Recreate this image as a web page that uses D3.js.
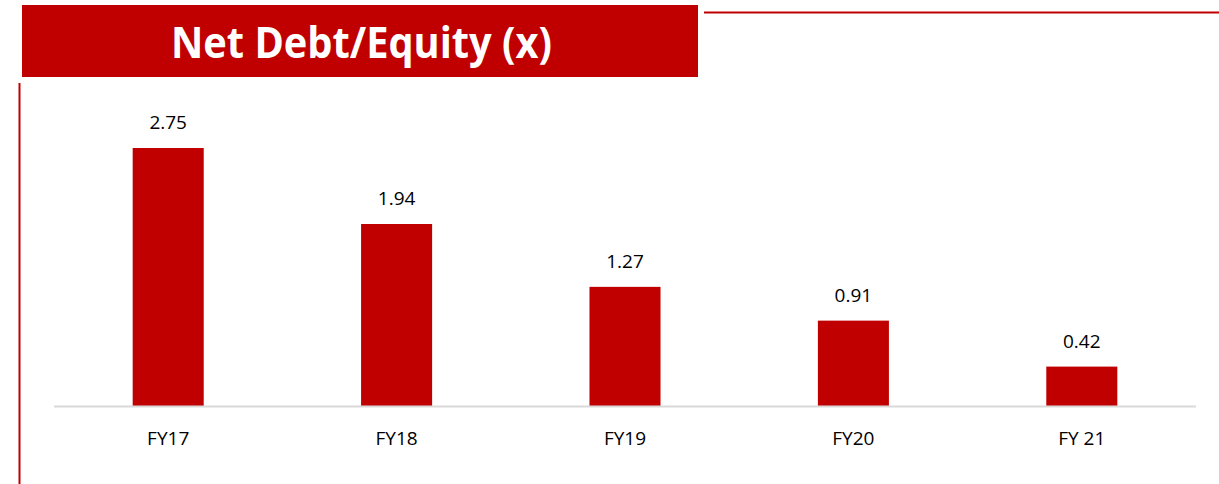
<!DOCTYPE html>
<html>
<head>
<meta charset="utf-8">
<script src="https://cdn.jsdelivr.net/npm/d3@7"></script>
<style>
  html, body { margin: 0; padding: 0; background: #fff; }
  svg { display: block; }
</style>
</head>
<body>
<svg id="chart" width="1219" height="484"></svg>
<script>
const categories = ["FY17", "FY18", "FY19", "FY20", "FY 21"];
const values = [2.75, 1.94, 1.27, 0.91, 0.42];
const title = "Net Debt/Equity (x)";

const red = "#C00000";
const font = "'Open Sans', 'Noto Sans', sans-serif";
const svg = d3.select("#chart");

// title banner
svg.append("rect").attr("x", 22).attr("y", 5).attr("width", 676).attr("height", 72).attr("fill", red);
svg.append("text").attr("x", 171).attr("y", 58)
  .attr("font-family", font).attr("font-weight", 700)
  .attr("font-size", 43).attr("fill", "#fff")
  .attr("textLength", 381).attr("lengthAdjust", "spacingAndGlyphs")
  .text(title);

// decorative lines
svg.append("line").attr("x1", 704).attr("x2", 1219).attr("y1", 12.5).attr("y2", 12.5)
  .attr("stroke", red).attr("stroke-width", 2);
svg.append("line").attr("x1", 19.5).attr("x2", 19.5).attr("y1", 83).attr("y2", 484)
  .attr("stroke", red).attr("stroke-width", 2);

const baseline = 406;
const x = d3.scaleBand().domain(categories).range([54, 1196]).paddingInner(0.689).paddingOuter(0.3445);
const y = d3.scaleLinear().domain([0, 2.75]).range([baseline, 148]);

svg.append("g").selectAll("rect").data(values).join("rect")
  .attr("x", (d, i) => x(categories[i]))
  .attr("y", d => y(d))
  .attr("width", x.bandwidth())
  .attr("height", d => baseline - y(d))
  .attr("fill", red);

// axis line
svg.append("line").attr("x1", 54).attr("x2", 1196).attr("y1", baseline + 0.5).attr("y2", baseline + 0.5)
  .attr("stroke", "#d9d9d9").attr("stroke-width", 2);

// value labels
svg.append("g").selectAll("text").data(values).join("text")
  .attr("x", (d, i) => x(categories[i]) + x.bandwidth() / 2)
  .attr("y", d => y(d) - 19)
  .attr("text-anchor", "middle")
  .attr("font-family", font).attr("font-size", 19).attr("fill", "#000")
  .text(d => d.toFixed(2));

// category labels
svg.append("g").selectAll("text").data(categories).join("text")
  .attr("x", d => x(d) + x.bandwidth() / 2)
  .attr("y", 445)
  .attr("text-anchor", "middle")
  .attr("font-family", font).attr("font-size", 19).attr("fill", "#000")
  .text(d => d);
</script>
</body>
</html>
